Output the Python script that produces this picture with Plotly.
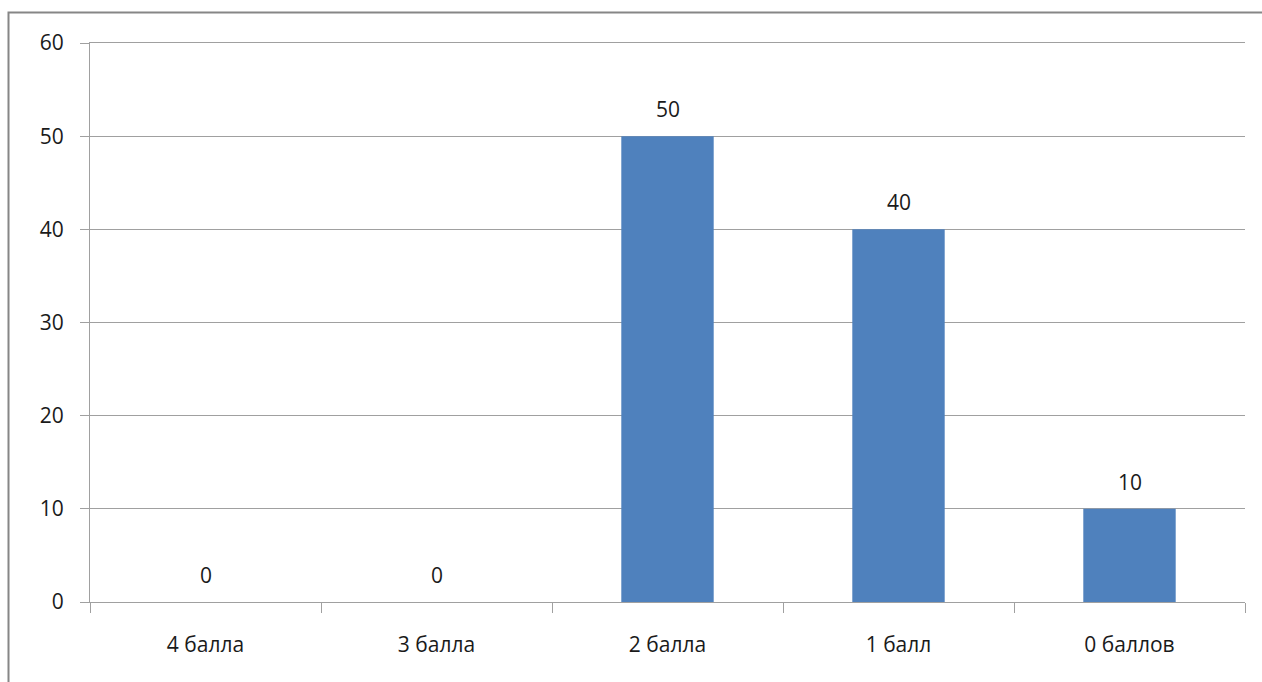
import plotly.graph_objects as go

categories = ["4 балла", "3 балла", "2 балла", "1 балл", "0 баллов"]
values = [0, 0, 50, 40, 10]
y_ticks = [0, 10, 20, 30, 40, 50, 60]

BAR = "#4F81BD"
GRID = "#A0A0A0"
TXT = "#1A1A1A"
FONT = "Open Sans"
FS = 21

fig = go.Figure()
fig.add_trace(go.Bar(
    x=categories, y=values, marker=dict(color=BAR, line=dict(width=0)),
    width=0.4, showlegend=False, hoverinfo="x+y",
))

for c, v in zip(categories, values):
    fig.add_annotation(x=c, y=v, text=str(v), showarrow=False,
                       yanchor="bottom", yshift=11,
                       font=dict(family=FONT, size=FS, color=TXT))

fig.update_layout(
    width=1262, height=682,
    margin=dict(l=90, r=17, t=43, b=80),
    paper_bgcolor="white", plot_bgcolor="white",
    font=dict(family=FONT, size=FS, color=TXT),
    bargap=0.6,
    xaxis=dict(
        type="category", showgrid=False, showline=True, linecolor=GRID, linewidth=1,
        mirror=True,
        ticks="outside", tickson="boundaries", ticklen=10, tickcolor=GRID, tickwidth=1,
        ticklabelstandoff=24, zeroline=False, fixedrange=True,
    ),
    yaxis=dict(
        range=[0, 60], tickvals=y_ticks, showgrid=True, gridcolor=GRID, gridwidth=1,
        showline=True, linecolor=GRID, linewidth=1, ticks="outside", ticklen=9,
        tickcolor=GRID, tickwidth=1, ticklabelstandoff=12, zeroline=False, fixedrange=True,
    ),
    shapes=[dict(type="rect", xref="paper", yref="paper",
                 x0=(8.5 - 90) / 1155, x1=1.2, y0=-0.3, y1=(602 - 12.5) / 559,
                 line=dict(color="#868686", width=2), fillcolor="rgba(0,0,0,0)",
                 layer="below")],
)

fig.write_html("out.html")
